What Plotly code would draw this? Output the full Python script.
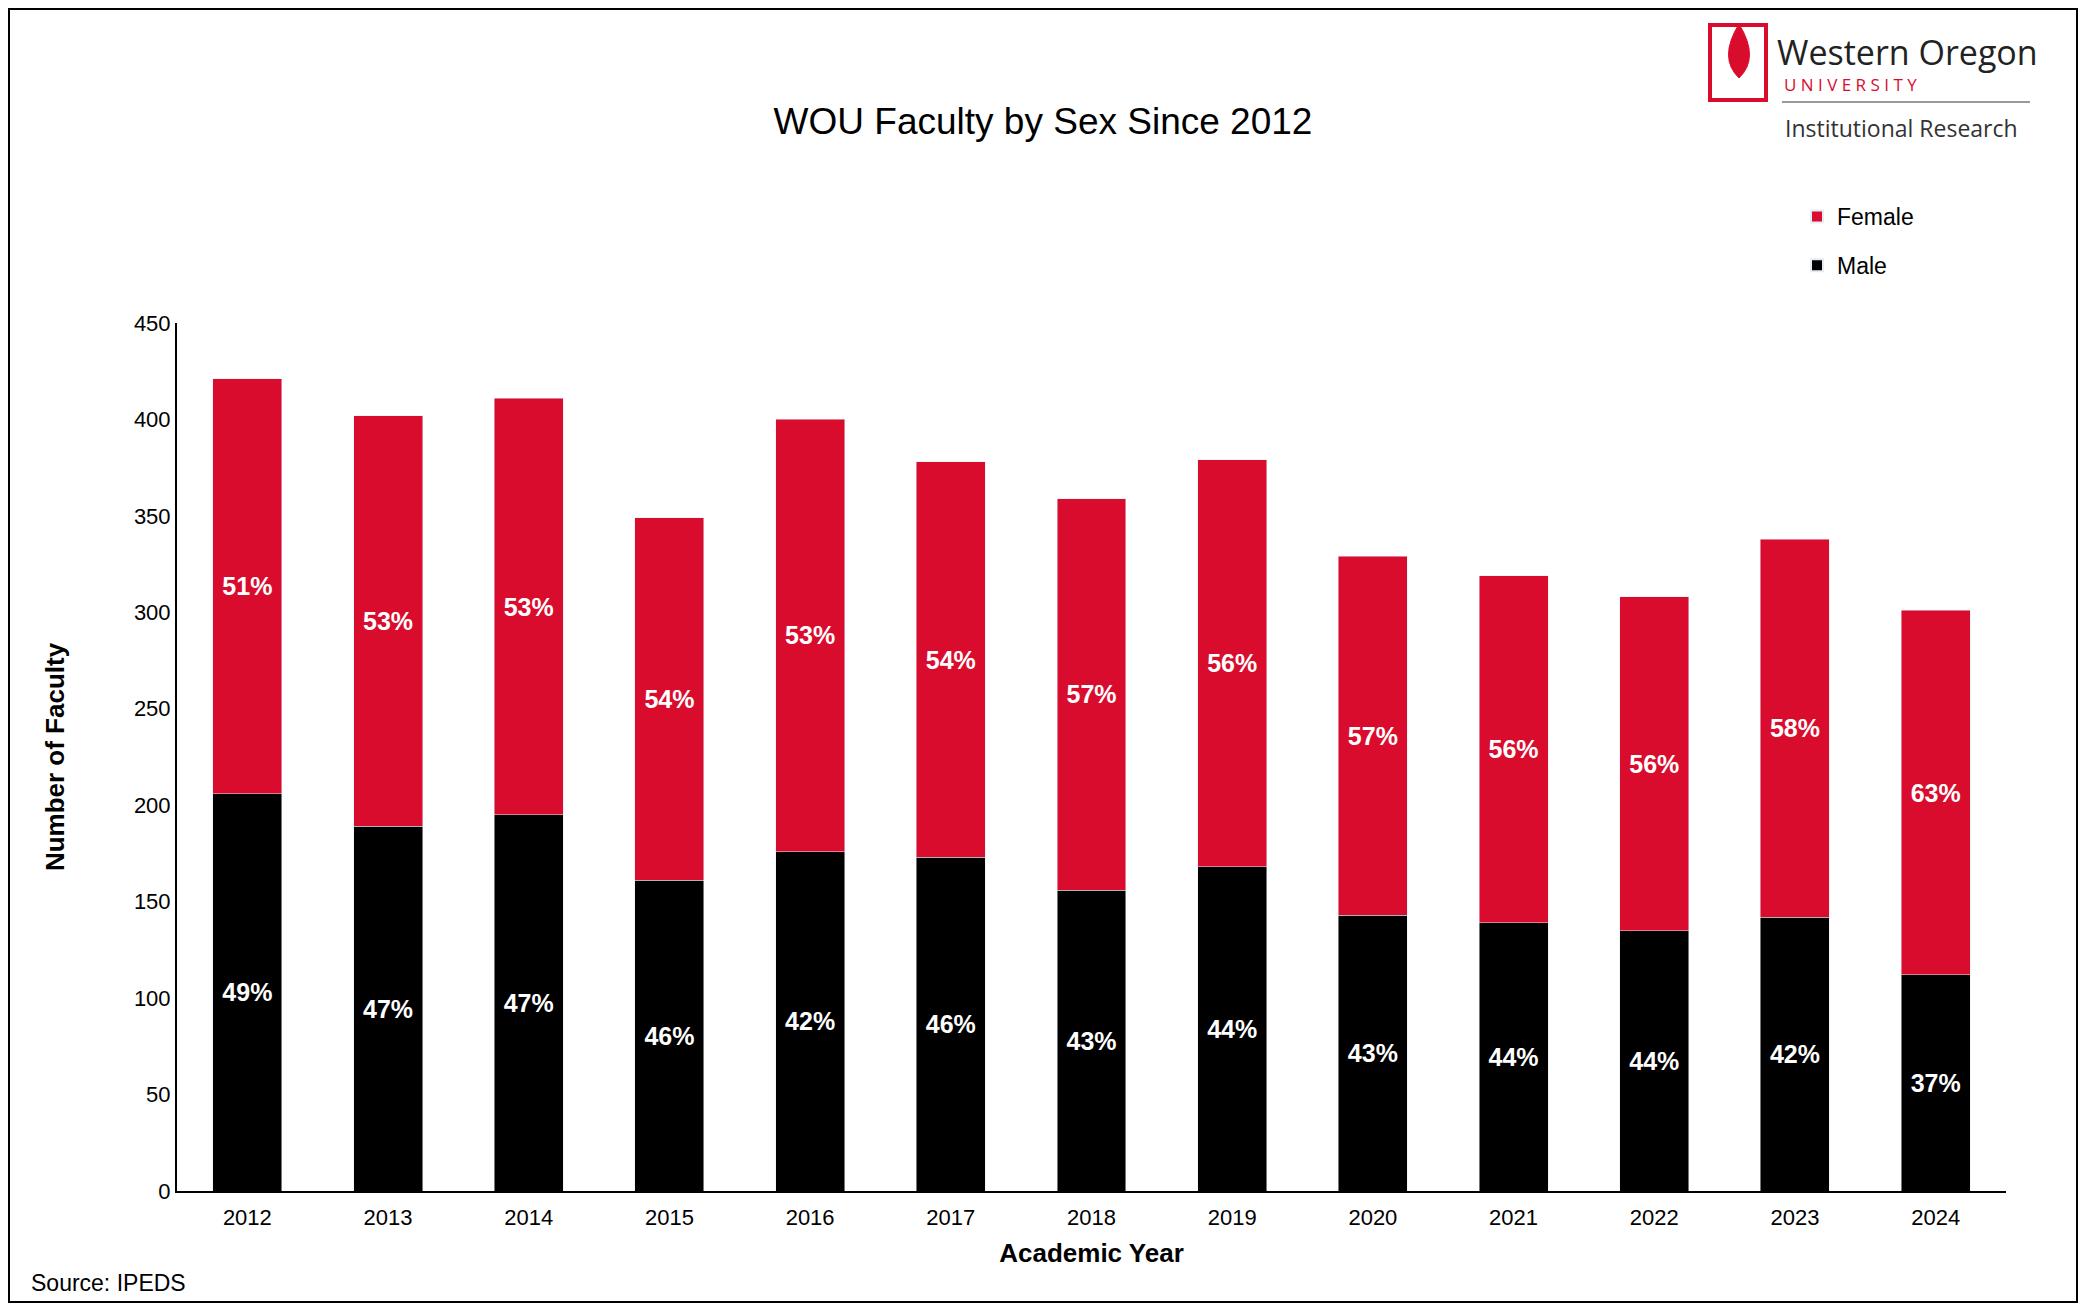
import plotly.graph_objects as go

years = ["2012","2013","2014","2015","2016","2017","2018","2019","2020","2021","2022","2023","2024"]
male = [206,189,195,161,176,173,156,168,143,139,135,142,112]
female = [215,213,216,188,224,205,203,211,186,180,173,196,189]
male_pct = ["49%","47%","47%","46%","42%","46%","43%","44%","43%","44%","44%","42%","37%"]
female_pct = ["51%","53%","53%","54%","53%","54%","57%","56%","57%","56%","56%","58%","63%"]

RED = "#DA0C2D"
FONT = "Liberation Sans, Arial, sans-serif"
OFF = 8
W, H = 2086 - 2*OFF, 1311 - 2*OFF
L, T = 177 - OFF, 323 - OFF
R, B = W - (2006 - OFF), H - (1191 - OFF)
pw, ph = W - L - R, H - T - B

def px(x): return (x - OFF - L)/pw
def py(y): return 1 - (y - OFF - T)/ph

fig = go.Figure()
fig.add_bar(x=years, y=male, name="Male", legendgroup="m", legendrank=2, marker_color="black", width=0.49,
            text=male_pct, textposition="inside", insidetextanchor="middle",
            textfont=dict(color="white", size=25, family=FONT, weight="bold"))
fig.add_bar(x=years, y=female, name="Female", legendgroup="f", legendrank=1, marker_color=RED, width=0.49,
            text=female_pct, textposition="inside", insidetextanchor="middle",
            textfont=dict(color="white", size=25, family=FONT, weight="bold"))

fig.update_layout(
    barmode="stack", width=W, height=H, plot_bgcolor="white", paper_bgcolor="white",
    margin=dict(l=L, r=R, t=T, b=B), font=dict(family=FONT, color="black"),
    title=dict(text="WOU Faculty by Sex Since 2012", x=0.5, xanchor="center", y=1 - (121 - OFF)/H,
               yanchor="middle", font=dict(size=37, family=FONT)),
    legend=dict(traceorder="grouped", x=px(1797), y=py(241), xanchor="left", yanchor="middle",
                font=dict(size=23, family=FONT), itemsizing="constant",
                tracegroupgap=16, bgcolor="rgba(0,0,0,0)"),
    uniformtext=dict(mode="show", minsize=10),
)
fig.update_xaxes(showline=True, linecolor="black", linewidth=2, ticks="", tickfont=dict(size=22),
                 ticklabelstandoff=6,
                 title=dict(text="<b>Academic Year</b>", font=dict(size=26), standoff=14))
fig.update_yaxes(range=[0, 450], dtick=50, showline=True, linecolor="black", linewidth=2,
                 showgrid=False, ticks="", tickfont=dict(size=22), zeroline=False,
                 title=dict(text="<b>Number of Faculty</b>", font=dict(size=26), standoff=62))

fig.add_shape(type="rect", xref="paper", yref="paper",
              x0=px(9), x1=px(2077), y0=py(1302), y1=py(9),
              line=dict(color="black", width=2))
fig.add_annotation(text="Source: IPEDS", xref="paper", yref="paper", x=px(29), y=py(1283),
                   xanchor="left", yanchor="middle", showarrow=False,
                   font=dict(size=23, family=FONT))
# logo
fig.add_shape(type="rect", xref="paper", yref="paper", x0=px(1710), x1=px(1766), y0=py(25), y1=py(100),
              line=dict(color=RED, width=4), fillcolor="white")
fig.add_shape(type="path", xref="paper", yref="paper",
              path=f"M {px(1739)},{py(24)} Q {px(1718)},{py(58)} {px(1739)},{py(78)} Q {px(1760)},{py(58)} {px(1739)},{py(24)} Z",
              fillcolor=RED, line=dict(color=RED, width=1))
fig.add_annotation(text="Western Oregon", xref="paper", yref="paper", x=px(1775), y=py(52),
                   xanchor="left", yanchor="middle", showarrow=False, font=dict(size=34, family="Open Sans", color="#222"))
fig.add_annotation(text="U N I V E R S I T Y", xref="paper", yref="paper", x=px(1782), y=py(84),
                   xanchor="left", yanchor="middle", showarrow=False, font=dict(size=17, family="Open Sans", color=RED))
fig.add_shape(type="line", xref="paper", yref="paper", x0=px(1782), x1=px(2030), y0=py(102), y1=py(102),
              line=dict(color="#999", width=2))
fig.add_annotation(text="Institutional Research", xref="paper", yref="paper", x=px(1783), y=py(128),
                   xanchor="left", yanchor="middle", showarrow=False, font=dict(size=23, family="Open Sans", color="#333"))

fig.write_html("out.html")
